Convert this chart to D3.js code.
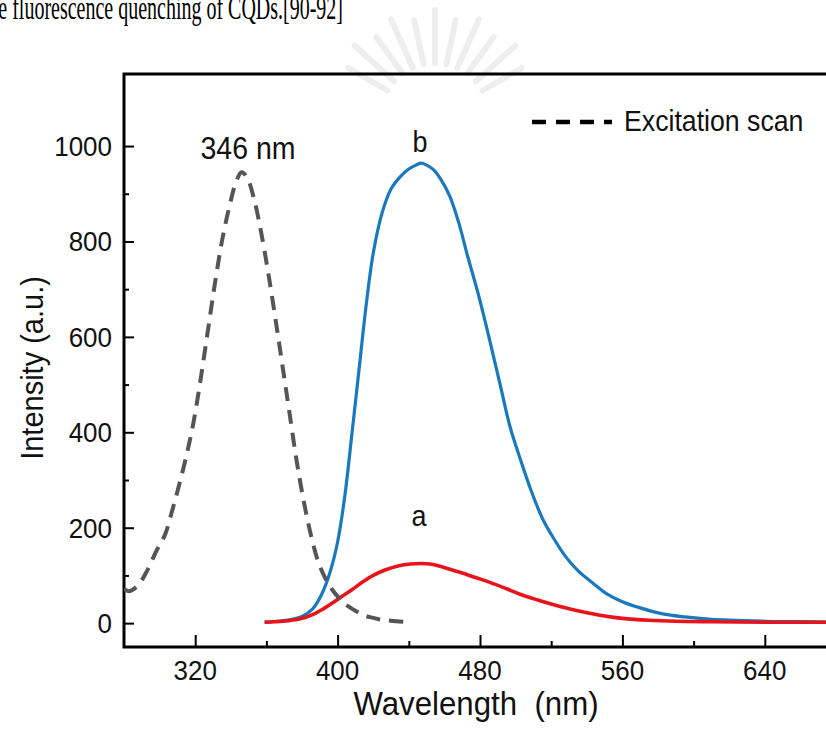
<!DOCTYPE html>
<html><head><meta charset="utf-8">
<script src="https://cdn.jsdelivr.net/npm/d3@7"></script>
<style>
html,body{margin:0;padding:0;background:#fff;}
svg{display:block;}
text{font-family:"Liberation Sans",Arial,sans-serif;fill:#111;}
</style></head>
<body>
<script>
// ---- data ----
const excitationWavelength = [280,283,288,293,298,303,307,311,315,319,323,327,331,335,339,343,346,349,353,357,361,365,369,373,377,381,385,389,393,397,401,405,410,415,420,425,430,437];
const excitationIntensity  = [72,67,80,110,150,185,235,290,350,420,510,610,710,800,870,925,945,935,890,820,735,640,540,440,340,255,185,130,95,70,52,38,26,16,11,7,5,3];

const bWavelength = [359,366,373,380,386,391,396,400,404,408,412,416,420,425,430,435,440,444,447,450,454,458,463,468,473,479,485,491,497,503,509,515,521,528,535,543,551,560,570,582,595,610,625,640,660,680];
const bIntensity  = [2,4,7,14,30,60,110,170,265,395,530,665,775,860,910,935,952,960,964,960,950,930,895,840,770,690,600,505,410,340,275,220,180,140,110,85,62,45,32,20,13,8,6,4,3,2];

const aWavelength = [359,365,372,379,386,392,397,402,408,414,420,427,434,441,447,452,457,463,470,478,486,495,503,512,520,530,540,550,560,575,590,610,640,680];
const aIntensity  = [2,3,5,9,18,30,42,55,70,86,100,112,120,124,125,124,120,113,105,95,85,72,60,49,40,30,22,15,10,6,4,3,2,2];

const xMajorTicks = [320,400,480,560,640];
const xMinorTicks = [360,440,520,600];
const yMajorTicks = [0,200,400,600,800,1000];
const yMinorTicks = [100,300,500,700,900];

const W = 826, H = 737;
const svg = d3.select("body").append("svg").attr("width",W).attr("height",H);

// text helper with slight vertical stretch like the reference
function txt(g, x0, y0, s, size, anchor, sy, rot){
  return g.append("text")
    .attr("transform", `translate(${x0},${y0})` + (rot?` rotate(${rot})`:"") + ` scale(1,${sy||1.08})`)
    .attr("text-anchor", anchor||"start").style("font-size", size+"px").text(s);
}

// page text above chart (cut off at the top edge, as in the reference)
svg.append("text").attr("transform","translate(343,19) scale(1,1.7)").attr("text-anchor","end")
  .style("font-family","'Liberation Serif','Times New Roman',serif").style("font-size","20px").style("fill","#000")
  .text("the fluorescence quenching of CQDs.[90-92]");

// faint watermark rays
const wm = svg.append("g").attr("stroke","#eeeeee").attr("stroke-width",6).attr("stroke-linecap","round").attr("fill","none");
for (let i=0;i<11;i++){
  const a = (-150 + i*12) * Math.PI/180;
  const cx=435, cy=118;
  wm.append("line").attr("x1",cx+Math.cos(a)*55).attr("y1",cy+Math.sin(a)*55)
    .attr("x2",cx+Math.cos(a)*(100+(i%2)*8)).attr("y2",cy+Math.sin(a)*(100+(i%2)*8));
}

const x = d3.scaleLinear().domain([280,680]).range([124,836]);
const y = d3.scaleLinear().domain([-50,1151]).range([647,74]);

svg.append("defs").append("clipPath").attr("id","clip")
  .append("rect").attr("x",124).attr("y",74).attr("width",W-124).attr("height",573);

// axes frame
svg.append("path").attr("d",`M${W+5},74 H124 V647 H${W+5}`)
  .attr("stroke","#000").attr("stroke-width",3).attr("fill","none");

// ticks (inward)
[[d3.axisTop(x).tickValues(xMajorTicks).tickSize(12)],[d3.axisTop(x).tickValues(xMinorTicks).tickSize(6)]].forEach(([ax])=>{
  const g = svg.append("g").attr("transform","translate(0,647)").call(ax.tickFormat(""));
  g.select(".domain").remove();
  g.selectAll("line").attr("stroke","#000").attr("stroke-width",2);
});
[[d3.axisRight(y).tickValues(yMajorTicks).tickSize(10)],[d3.axisRight(y).tickValues(yMinorTicks).tickSize(5)]].forEach(([ax])=>{
  const g = svg.append("g").attr("transform","translate(124,0)").call(ax.tickFormat(""));
  g.select(".domain").remove();
  g.selectAll("line").attr("stroke","#000").attr("stroke-width",2);
});

// tick labels
const lab = svg.append("g");
xMajorTicks.forEach(d=>txt(lab, x(d), 680, d, 26, "middle"));
yMajorTicks.forEach(d=>txt(lab, 112, y(d)+10, d, 26, "end"));

// axis titles
txt(svg, 476, 715, "Wavelength\u00a0\u00a0(nm)", 31.2, "middle");
txt(svg, 43, 368, "Intensity (a.u.)", 29, "middle", 1.08, -90);

// curves
const plot = svg.append("g").attr("clip-path","url(#clip)");
const line = d3.line().x(d=>x(d[0])).y(d=>y(d[1])).curve(d3.curveCatmullRom);
const zip = (a,b)=>a.map((v,i)=>[v,b[i]]);

plot.append("path").datum(zip(bWavelength,bIntensity)).attr("d",line)
  .attr("fill","none").attr("stroke","#1a78bd").attr("stroke-width",3.2);
plot.append("path").datum(zip(aWavelength,aIntensity)).attr("d",line)
  .attr("fill","none").attr("stroke","#e8141c").attr("stroke-width",3.6);
plot.append("path").datum(zip(excitationWavelength,excitationIntensity)).attr("d",line)
  .attr("fill","none").attr("stroke","#555555").attr("stroke-width",4).attr("stroke-dasharray","14,9");

// annotations
txt(svg, 248, 159, "346 nm", 28.5, "middle");
txt(svg, 420, 152, "b", 27, "middle");
txt(svg, 419, 526, "a", 27, "middle");

// legend
svg.append("line").attr("x1",532).attr("x2",612).attr("y1",122).attr("y2",122)
  .attr("stroke","#000").attr("stroke-width",4.5).attr("stroke-dasharray","14,10");
txt(svg, 624, 131, "Excitation scan", 26.7, "start");
</script>
</body></html>
